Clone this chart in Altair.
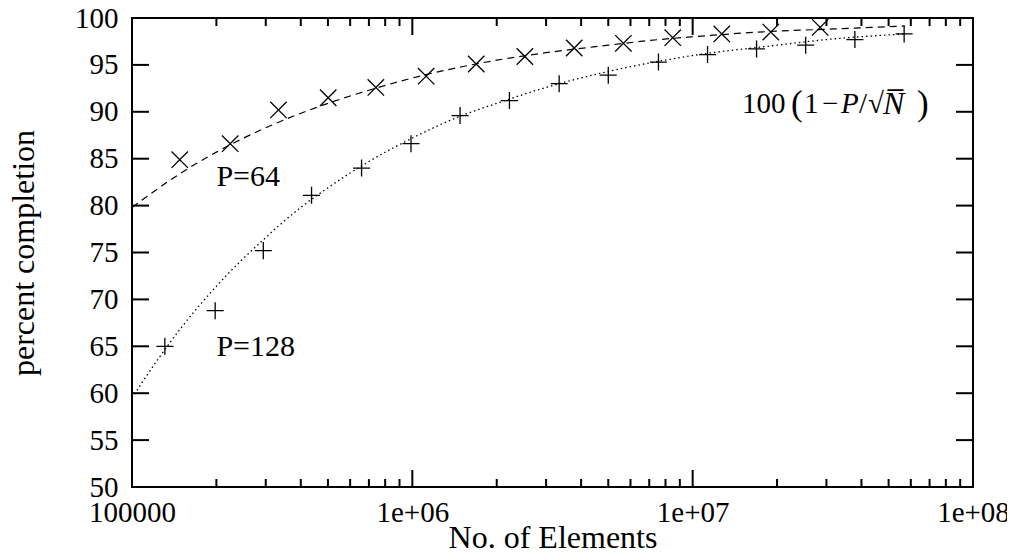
import altair as alt
import pandas as pd

# ---- data ----
x_ticks = [1e5, 1e6, 1e7, 1e8]
x_tick_labels = ["100000", "1e+06", "1e+07", "1e+08"]
x_minor = [2e5, 3e5, 4e5, 5e5, 6e5, 7e5, 8e5, 9e5,
           2e6, 3e6, 4e6, 5e6, 6e6, 7e6, 8e6, 9e6,
           2e7, 3e7, 4e7, 5e7, 6e7, 7e7, 8e7, 9e7]
y_ticks = [50, 55, 60, 65, 70, 75, 80, 85, 90, 95, 100]

# measured points, P=64 (x marks)
p64_N = [1.48e5, 2.24e5, 3.33e5, 5.01e5, 7.41e5, 1.12e6, 1.69e6, 2.52e6,
         3.78e6, 5.66e6, 8.49e6, 1.27e7, 1.90e7, 2.85e7]
p64_pct = [84.9, 86.6, 90.2, 91.5, 92.6, 93.8, 95.1, 95.9,
           96.8, 97.3, 97.9, 98.3, 98.5, 99.0]

# measured points, P=128 (+ marks)
p128_N = [1.31e5, 1.98e5, 2.94e5, 4.37e5, 6.59e5, 9.89e5, 1.48e6, 2.22e6,
          3.34e6, 5.00e6, 7.55e6, 1.13e7, 1.69e7, 2.53e7, 3.79e7, 5.68e7]
p128_pct = [65.0, 68.8, 75.2, 81.1, 84.0, 86.6, 89.6, 91.2,
            93.0, 93.9, 95.3, 96.1, 96.7, 97.1, 97.7, 98.3]

# model curves 100(1-P/sqrt(N))
c64_N = [1.0e5, 1.25e5, 1.5e5, 2.0e5, 3.0e5, 5.0e5, 7.0e5, 1.0e6, 1.5e6,
         2.0e6, 3.0e6, 5.0e6, 7.0e6, 1.0e7, 2.0e7, 3.0e7, 5.7e7]
c64_pct = [79.8, 81.9, 83.5, 85.7, 88.3, 90.9, 92.3, 93.6, 94.8,
           95.5, 96.3, 97.1, 97.6, 98.0, 98.6, 98.8, 99.15]
c128_N = [1.0e5, 1.25e5, 1.5e5, 2.0e5, 3.0e5, 4.0e5, 5.0e5, 7.0e5, 1.0e6,
          1.5e6, 2.0e6, 3.0e6, 5.0e6, 7.0e6, 1.0e7, 2.0e7, 3.0e7, 5.7e7]
c128_pct = [59.5, 63.8, 67.0, 71.4, 76.6, 79.8, 81.9, 84.7, 87.2,
            89.6, 90.9, 92.6, 94.3, 95.2, 96.0, 97.1, 97.7, 98.3]

W, H = 841, 469
FONT = "Liberation Serif"

label_expr = " : ".join(
    f"datum.value == {v:.0f} ? '{l}'" for v, l in zip(x_ticks, x_tick_labels)
) + " : ''"

X = alt.X("N:Q",
          scale=alt.Scale(type="log", domain=[1e5, 1e8], nice=False),
          axis=alt.Axis(values=x_ticks, labelExpr=label_expr, title="No. of Elements",
                        ticks=False, tickSize=0, domain=False, grid=False,
                        labelPadding=11, titlePadding=-5, labelFlush=False,
                        labelOverlap=False))
Y = alt.Y("pct:Q",
          scale=alt.Scale(domain=[50, 100], nice=False, zero=False),
          axis=alt.Axis(values=y_ticks, title="percent completion",
                        ticks=False, tickSize=0, domain=False, grid=False,
                        labelPadding=14, titlePadding=34, labelFlush=False))

d64c = pd.DataFrame({"N": c64_N, "pct": c64_pct})
d128c = pd.DataFrame({"N": c128_N, "pct": c128_pct})
d64p = pd.DataFrame({"N": p64_N, "pct": p64_pct})
d128p = pd.DataFrame({"N": p128_N, "pct": p128_pct})

curve64 = alt.Chart(d64c).mark_line(color="black", strokeWidth=1.2, strokeDash=[7, 5],
                                    interpolate="monotone").encode(x=X, y=Y)
curve128 = alt.Chart(d128c).mark_line(color="black", strokeWidth=1.3, strokeDash=[1.5, 3],
                                      interpolate="monotone").encode(x=X, y=Y)

cross_path = "M-1,-1L1,1M-1,1L1,-1"
plus_path = "M-1,0L1,0M0,-1L0,1"
pts64 = alt.Chart(d64p).mark_point(shape=cross_path, filled=False, size=270, color="black",
                                   strokeWidth=1.3, opacity=1).encode(x=X, y=Y)
pts128 = alt.Chart(d128p).mark_point(shape=plus_path, filled=False, size=290, color="black",
                                     strokeWidth=1.3, opacity=1).encode(x=X, y=Y)

# inward ticks on all four sides
dmaj = pd.DataFrame({"N": x_ticks})
dmin = pd.DataFrame({"N": x_minor})
dy = pd.DataFrame({"pct": y_ticks})
tk = dict(color="black", strokeWidth=2)
ticks = [
    alt.Chart(dmaj).mark_rule(**tk).encode(x=X, y=alt.value(H), y2=alt.value(H - 17)),
    alt.Chart(dmaj).mark_rule(**tk).encode(x=X, y=alt.value(0), y2=alt.value(17)),
    alt.Chart(dmin).mark_rule(**tk).encode(x=X, y=alt.value(H), y2=alt.value(H - 8)),
    alt.Chart(dmin).mark_rule(**tk).encode(x=X, y=alt.value(0), y2=alt.value(8)),
    alt.Chart(dy).mark_rule(**tk).encode(y=Y, x=alt.value(0), x2=alt.value(17)),
    alt.Chart(dy).mark_rule(**tk).encode(y=Y, x=alt.value(W), x2=alt.value(W - 17)),
]

# annotations
lab = pd.DataFrame({"N": [2.0e5, 2.0e5], "pct": [83.0, 64.9], "t": ["P=64", "P=128"]})
labels = alt.Chart(lab).mark_text(font=FONT, fontSize=30, align="left", baseline="middle",
                                  color="black").encode(x=X, y=Y, text="t:N")

anchor = pd.DataFrame({"N": [1.5e7], "pct": [90.8]})
def piece(txt, dx, italic=False, size=29):
    return alt.Chart(anchor).mark_text(
        text=txt, dx=dx, font=FONT, fontSize=size, align="left", baseline="middle",
        color="black", fontStyle="italic" if italic else "normal").encode(x=X, y=Y)

formula = [
    piece("100", 0),
    piece("(", 49, size=35),
    piece("1", 62),
    piece("\u2212", 80),
    piece("P", 99, italic=True),
    piece("/", 117),
    piece("\u221a", 126),
    piece("N\u0305", 141, italic=True, size=32),
    piece(")", 175, size=35),
]

chart = alt.layer(curve64, curve128, pts64, pts128, *ticks, labels, *formula).properties(
    width=W, height=H,
    background="white",
    autosize=alt.AutoSizeParams(type="none"),
    padding={"left": 124, "top": 10, "right": 34, "bottom": 61},
).configure_view(stroke="black", strokeWidth=2).configure_axis(
    labelFont=FONT, titleFont=FONT, labelFontSize=29, titleFontSize=32,
    labelColor="black", titleColor="black", titleFontWeight="normal",
)

chart.save("out.html", embed_options={"renderer": "svg", "actions": False})
